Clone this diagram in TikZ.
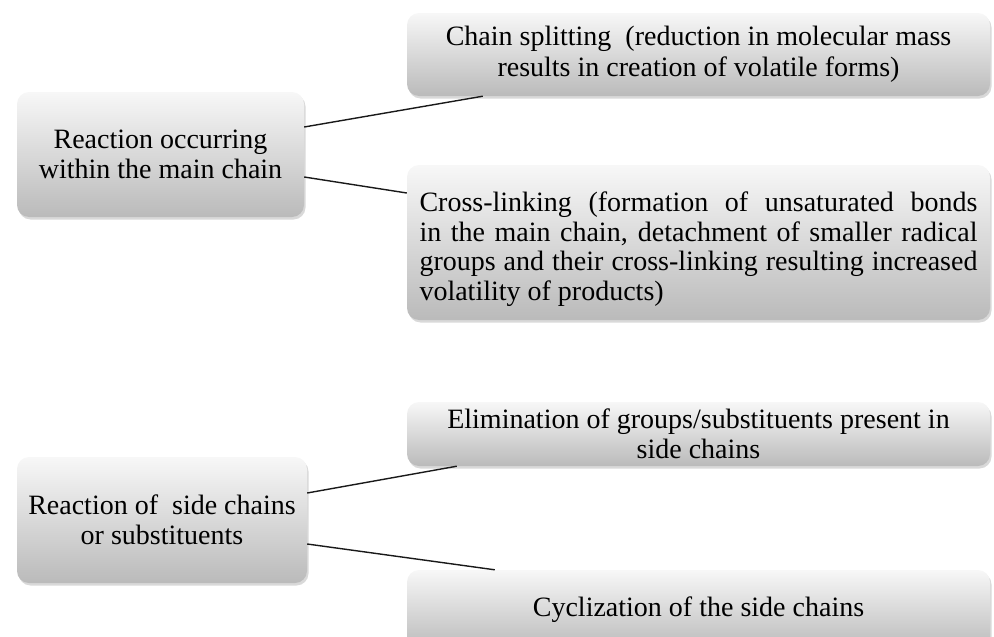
\documentclass[tikz,border=0pt]{standalone}
\usepackage{fontspec}
\setmainfont{Liberation Serif}
\usetikzlibrary{shadows,positioning}
\tikzset{
  gbox/.style={rectangle, rounded corners=12pt, draw=none,
    top color=black!3, bottom color=black!27,
    drop shadow={opacity=0.3, shadow xshift=1.5pt, shadow yshift=-2.5pt},
    inner sep=0pt, align=center,
    font=\fontsize{28}{29.5}\selectfont},
  link/.style={draw=black!90, line width=1.4pt}
}
\begin{document}
\begin{tikzpicture}[x=1pt,y=-1pt]
\useasboundingbox (0,0) rectangle (994,637);
\node[gbox, minimum width=287pt, minimum height=125pt] (A) at (160.5,154.5)
  {Reaction occurring\\within the main chain};
\node[gbox, minimum width=583pt, minimum height=83pt] (B) at (698.5,54.5)
  {\raisebox{2pt}{Chain splitting\ \ (reduction in molecular mass}\\results in creation of volatile forms)};
\node[gbox, minimum width=583pt, minimum height=155pt, text width=558pt, align=justify] (C) at (698.5,242.5)
  {\fontsize{28}{32}\selectfont\hyphenpenalty=10000\rule{0pt}{33pt}Cross-linking (formation of unsaturated bonds\linebreak in the main chain, detachment of smaller radical\linebreak groups and their cross-linking resulting increased\linebreak volatility of products)};
\node[gbox, minimum width=290pt, minimum height=126pt] (F) at (162,520)
  {Reaction of\ \ side chains\\or substituents};
\node[gbox, minimum width=583pt, minimum height=64pt] (D) at (698.5,434)
  {Elimination of groups/substituents present in\\side chains};
\node[gbox, minimum width=583pt, minimum height=80pt] (E) at (698.5,610)
  {Cyclization of the side chains};
\draw[link] ([yshift=27.5pt]A.east) -- ([xshift=76pt]B.south west);
\draw[link] ([yshift=-22.5pt]A.east) -- ([yshift=49.5pt]C.west);
\draw[link] ([yshift=27pt]F.east) -- ([xshift=50pt]D.south west);
\draw[link] ([yshift=-24pt]F.east) -- ([xshift=88pt]E.north west);
\end{tikzpicture}
\end{document}
